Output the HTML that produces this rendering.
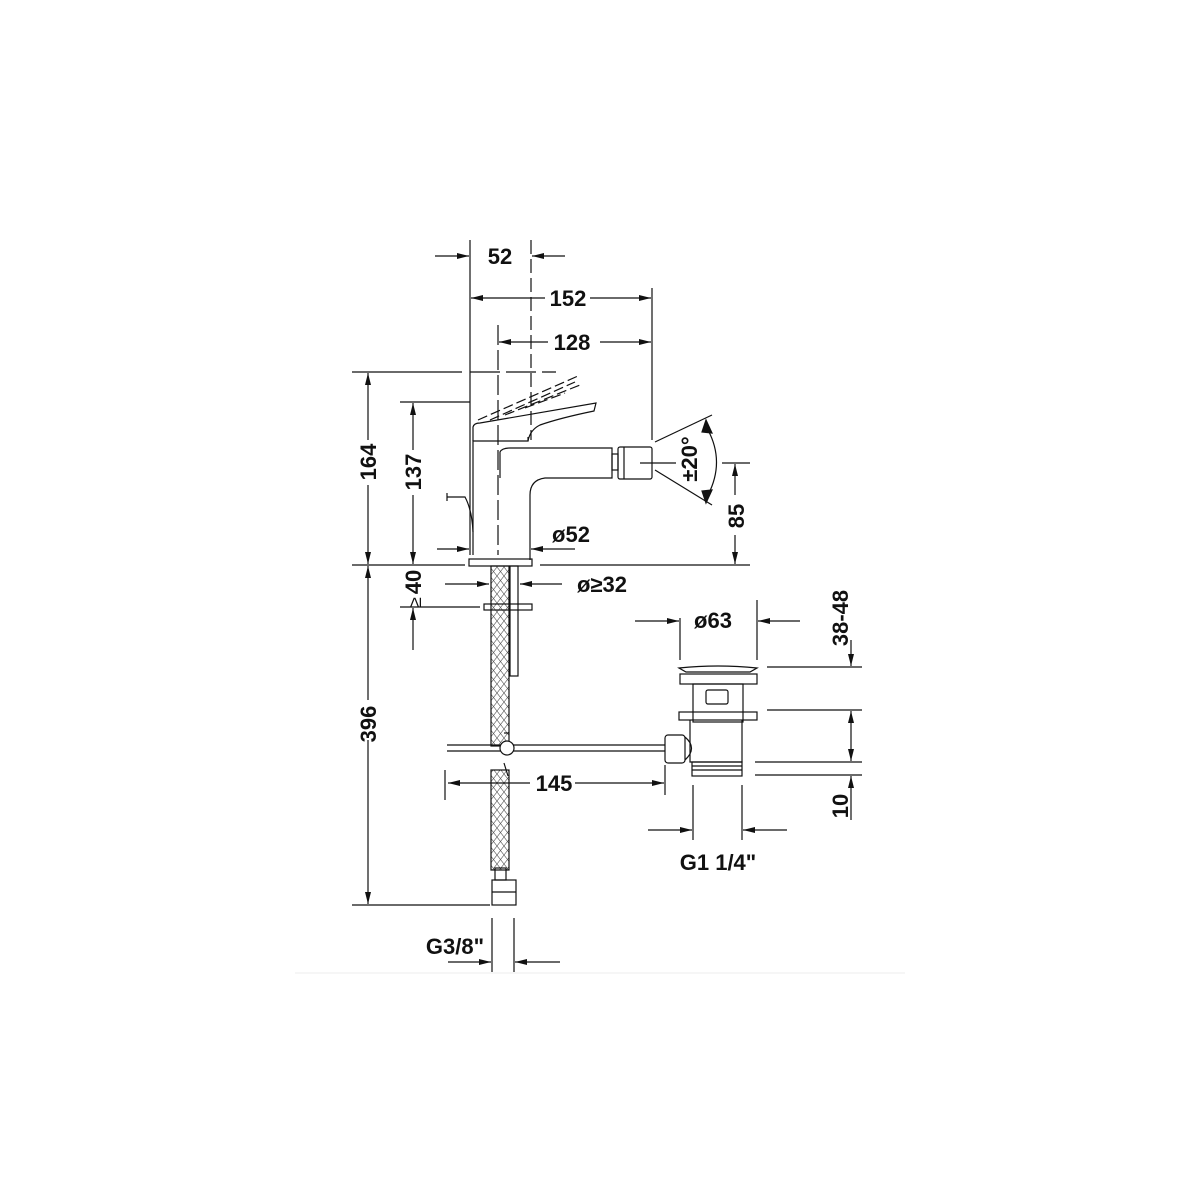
<!DOCTYPE html>
<html><head><meta charset="utf-8"><style>
html,body{margin:0;padding:0;background:#fff;}
svg{display:block;}
text{font-family:"Liberation Sans Narrow","Liberation Sans",sans-serif;font-weight:bold;font-size:22px;fill:#111;}
</style></head><body>
<svg width="1200" height="1200" viewBox="0 0 1200 1200" xmlns="http://www.w3.org/2000/svg">
<defs>
<marker id="a" viewBox="0 0 12 6" refX="12" refY="3" markerWidth="12" markerHeight="6" orient="auto" markerUnits="userSpaceOnUse"><path d="M0,0 L12,3 L0,6 z" fill="#111"/></marker>
<pattern id="h" width="7" height="9" patternUnits="userSpaceOnUse"><path d="M0,0 L7,9 M7,0 L0,9" stroke="#555" stroke-width="0.6"/></pattern>
</defs>
<g stroke="#111" stroke-width="1.2" fill="none">
<line x1="470" y1="240" x2="470" y2="555"/>
<line x1="531" y1="240" x2="531" y2="440" stroke-dasharray="14,5"/>
<line x1="498" y1="325" x2="498" y2="555" stroke-dasharray="20,5"/>
<line x1="652" y1="288" x2="652" y2="440"/>
<line x1="352" y1="372" x2="462" y2="372"/>
<line x1="470" y1="372" x2="556" y2="372" stroke-dasharray="30,6"/>
<line x1="400" y1="402" x2="470" y2="402"/>
<line x1="352" y1="565" x2="465" y2="565"/>
<line x1="540" y1="565" x2="750" y2="565"/>
<line x1="722" y1="463" x2="750" y2="463"/>
<line x1="400" y1="607" x2="480" y2="607"/>
<line x1="352" y1="905" x2="490" y2="905"/>
<line x1="435" y1="256" x2="469" y2="256" marker-end="url(#a)"/>
<line x1="565" y1="256" x2="532" y2="256" marker-end="url(#a)"/>
<line x1="545" y1="298" x2="471" y2="298" marker-end="url(#a)"/>
<line x1="590" y1="298" x2="651" y2="298" marker-end="url(#a)"/>
<line x1="548" y1="342" x2="499" y2="342" marker-end="url(#a)"/>
<line x1="600" y1="342" x2="651" y2="342" marker-end="url(#a)"/>
<line x1="368" y1="440" x2="368" y2="373" marker-end="url(#a)"/>
<line x1="368" y1="485" x2="368" y2="564" marker-end="url(#a)"/>
<line x1="413" y1="450" x2="413" y2="403" marker-end="url(#a)"/>
<line x1="413" y1="495" x2="413" y2="564" marker-end="url(#a)"/>
<line x1="735" y1="495" x2="735" y2="464" marker-end="url(#a)"/>
<line x1="735" y1="535" x2="735" y2="564" marker-end="url(#a)"/>
<line x1="437" y1="549" x2="469" y2="549" marker-end="url(#a)"/>
<line x1="575" y1="549" x2="531" y2="549" marker-end="url(#a)"/>
<line x1="445" y1="584" x2="489" y2="584" marker-end="url(#a)"/>
<line x1="562" y1="584" x2="520" y2="584" marker-end="url(#a)"/>
<line x1="368" y1="620" x2="368" y2="566" marker-end="url(#a)"/>
<line x1="368" y1="740" x2="368" y2="904" marker-end="url(#a)"/>
<line x1="368" y1="700" x2="368" y2="620"/>
<line x1="413" y1="650" x2="413" y2="608" marker-end="url(#a)"/>
<line x1="655" y1="442" x2="712" y2="415"/>
<line x1="655" y1="470" x2="712" y2="505"/>
<line x1="640" y1="463" x2="676" y2="463"/>
<path d="M708,430 Q725,462 708,495"/>
<path d="M706,420 L712,433 L702,432 z" fill="#111"/>
<path d="M706,503 L712,490 L702,491 z" fill="#111"/>
<path d="M473,555 L473,441 L528,441 L528,437"/>
<path d="M473,441 L473,427 Q474,423 480,423 L596,403 L594,411 Q560,418 540,425 Q530,430 528,441" />
<path d="M500,478 L500,452 Q502,448 510,448 L612,448 L612,478 L545,478 Q530,480 530,495 L530,560"/>
<rect x="469" y="559" width="63" height="7"/>
<rect x="612" y="454" width="6" height="16"/>
<rect x="618" y="447" width="34" height="32" rx="2"/>
<line x1="624" y1="447" x2="624" y2="479"/>
<path d="M447,497 L465,497 Q472,510 473,532"/>
<path d="M447,493 L447,501"/>
<g stroke-dasharray="10,4">
<path d="M478,420 L578,376"/><path d="M490,420 L575,382"/><path d="M505,415 L580,385"/><path d="M525,408 L565,393"/>
</g>
<rect x="491" y="566" width="18" height="180" fill="url(#h)"/>
<rect x="491" y="770" width="18" height="100" fill="url(#h)"/>
<rect x="510" y="566" width="8" height="110"/>
<rect x="484" y="604" width="48" height="6"/>
<rect x="495" y="868" width="11" height="12"/>
<rect x="492" y="880" width="24" height="25"/>
<line x1="492" y1="892" x2="516" y2="892"/>
<line x1="447" y1="745" x2="665" y2="745"/>
<line x1="447" y1="751" x2="665" y2="751"/>
<circle cx="507" cy="748" r="7" fill="#fff"/>
<line x1="504" y1="733" x2="509" y2="733"/><line x1="504" y1="763" x2="508" y2="776"/>
<line x1="445" y1="770" x2="445" y2="800"/>
<line x1="665" y1="765" x2="665" y2="795"/>
<line x1="530" y1="783" x2="448" y2="783" marker-end="url(#a)"/>
<line x1="575" y1="783" x2="664" y2="783" marker-end="url(#a)"/>
<path d="M679,668 Q718,664 757,668 L750,672 L686,672 z"/>
<rect x="680" y="674" width="77" height="10"/>
<rect x="693" y="684" width="50" height="38"/>
<rect x="706" y="690" width="22" height="14" rx="2"/>
<rect x="679" y="712" width="78" height="8"/>
<path d="M690,720 L690,762 L742,762 L742,720"/>
<rect x="692" y="762" width="50" height="14"/>
<line x1="692" y1="766" x2="742" y2="766"/><line x1="692" y1="770" x2="742" y2="770"/>
<rect x="665" y="735" width="20" height="28" rx="3"/>
<path d="M685,737 Q698,748 685,760"/>
<line x1="680" y1="618" x2="680" y2="660"/>
<line x1="757" y1="600" x2="757" y2="660"/>
<line x1="635" y1="621" x2="679" y2="621" marker-end="url(#a)"/>
<line x1="800" y1="621" x2="758" y2="621" marker-end="url(#a)"/>
<line x1="767" y1="667" x2="862" y2="667"/>
<line x1="767" y1="710" x2="862" y2="710"/>
<line x1="755" y1="762" x2="862" y2="762"/>
<line x1="755" y1="775" x2="862" y2="775"/>
<line x1="851" y1="640" x2="851" y2="666" marker-end="url(#a)"/>
<line x1="851" y1="736" x2="851" y2="711" marker-end="url(#a)"/>
<line x1="851" y1="736" x2="851" y2="761" marker-end="url(#a)"/>
<line x1="851" y1="820" x2="851" y2="776" marker-end="url(#a)"/>
<line x1="693" y1="785" x2="693" y2="840"/>
<line x1="742" y1="785" x2="742" y2="840"/>
<line x1="648" y1="830" x2="692" y2="830" marker-end="url(#a)"/>
<line x1="787" y1="830" x2="743" y2="830" marker-end="url(#a)"/>
<line x1="492" y1="918" x2="492" y2="972"/>
<line x1="514" y1="918" x2="514" y2="972"/>
<line x1="448" y1="962" x2="491" y2="962" marker-end="url(#a)"/>
<line x1="560" y1="962" x2="515" y2="962" marker-end="url(#a)"/>
</g>
<line x1="295" y1="973" x2="905" y2="973" stroke="#eee" stroke-width="1"/>
<g text-anchor="middle">
<text x="500" y="264">52</text>
<text x="568" y="306">152</text>
<text x="572" y="350">128</text>
<text x="571" y="542">ø52</text>
<text x="602" y="592">ø≥32</text>
<text x="713" y="628">ø63</text>
<text x="554" y="791">145</text>
<text x="718" y="870">G1 1/4"</text>
<text x="455" y="954">G3/8"</text>
<text transform="translate(376,462) rotate(-90)">164</text>
<text transform="translate(421,472) rotate(-90)">137</text>
<text transform="translate(421,582) rotate(-90)">40</text>
<text transform="translate(421,602) rotate(-90)" style="font-weight:normal;font-size:18px">≥</text>
<text transform="translate(376,724) rotate(-90)">396</text>
<text transform="translate(744,516) rotate(-90)">85</text>
<text transform="translate(697,459) rotate(-90)">±20°</text>
<text transform="translate(848,618) rotate(-90)">38-48</text>
<text transform="translate(848,806) rotate(-90)">10</text>
</g>
</svg>
</body></html>
